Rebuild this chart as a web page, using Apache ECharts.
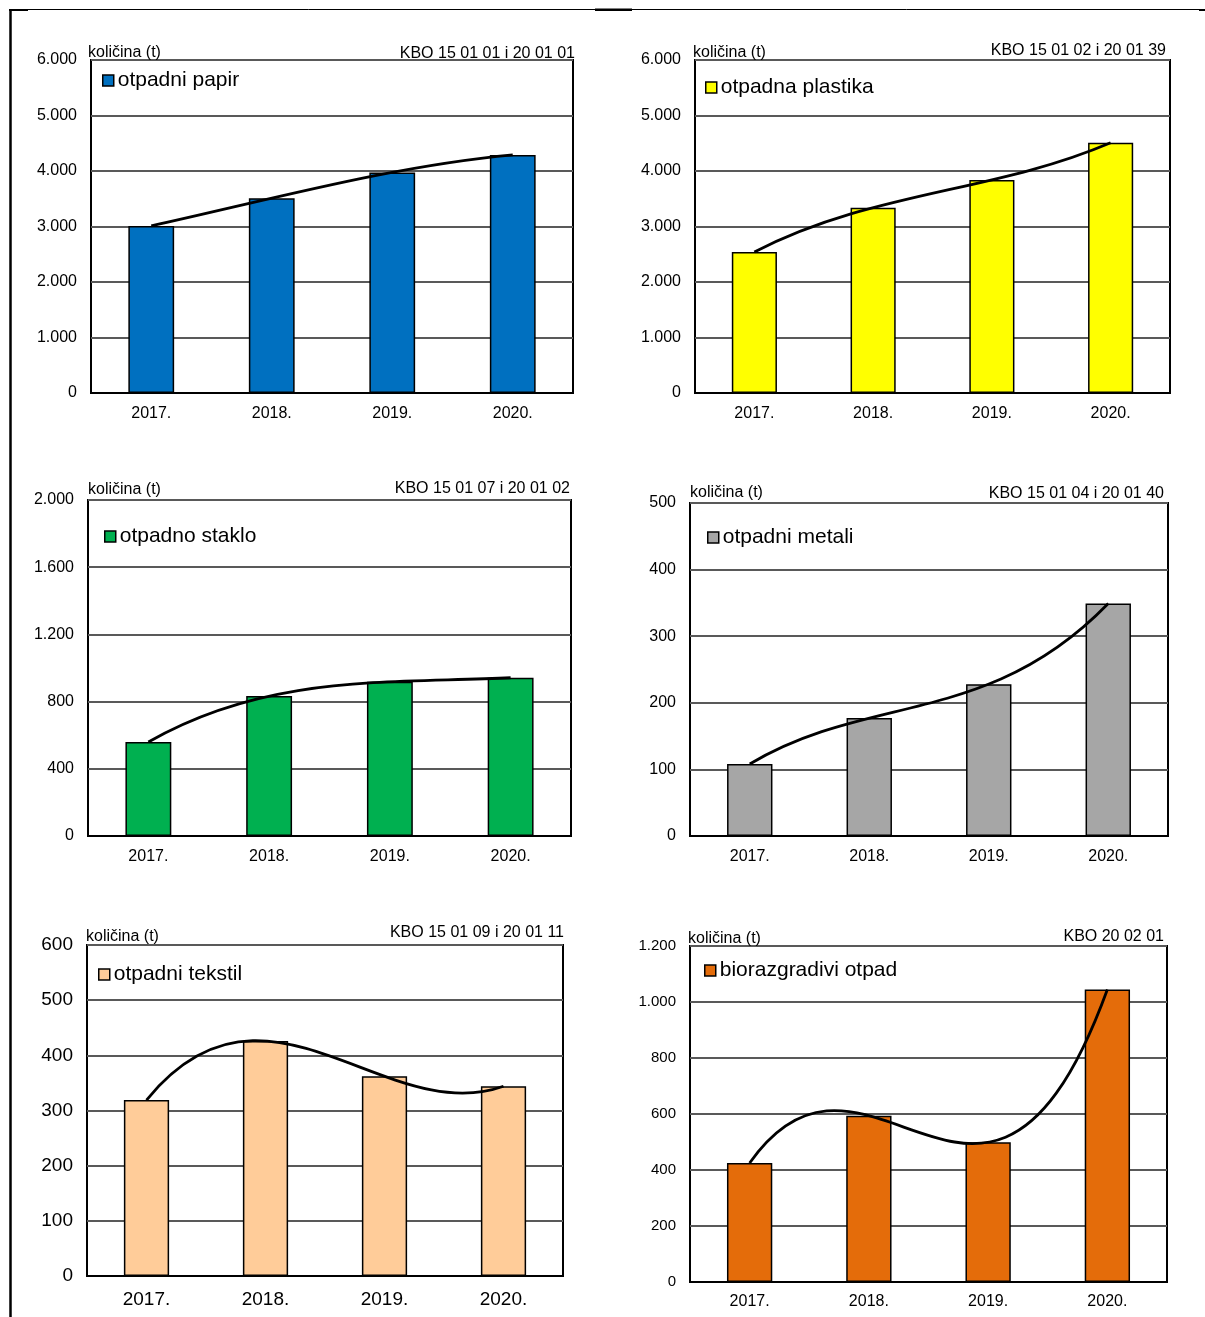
<!DOCTYPE html>
<html>
<head>
<meta charset="utf-8">
<script src="https://cdn.jsdelivr.net/npm/echarts@6/dist/echarts.min.js"></script>
<style>
html,body{margin:0;padding:0;background:#fff;}
#c{width:1205px;height:1317px;}
</style>
</head>
<body>
<div id="c"></div>
<script>
// ---- data ----
const years = ['2017.', '2018.', '2019.', '2020.'];
const papir = [3010, 3510, 3975, 4290];
const plastika = [2540, 3340, 3840, 4510];
const staklo = [560, 833, 918, 942];
const metali = [108, 177, 228, 349];
const tekstil = [319, 426, 362, 344];
const bio = [425, 594, 499, 1045];
const names = ['otpadni papir', 'otpadna plastika', 'otpadno staklo', 'otpadni metali', 'otpadni tekstil', 'biorazgradivi otpad'];
const kbo = ['KBO 15 01 01 i 20 01 01', 'KBO 15 01 02 i 20 01 39', 'KBO 15 01 07 i 20 01 02', 'KBO 15 01 04 i 20 01 40', 'KBO 15 01 09 i 20 01 11', 'KBO 20 02 01'];
const yMax = [6000, 6000, 2000, 500, 600, 1200];
const yInterval = [1000, 1000, 400, 100, 100, 200];
const unitLabel = 'količina (t)';

// ---- layout / style ----
const FONT = '"Liberation Sans", Arial, sans-serif';
const panels = [
  {data: papir,    color: '#0070C0', grid: {left: 91, top: 60, width: 482, height: 333}, leg: [102, 70], t1: [88, 45], t2: [630, 46], fs: 16, xfs: 16, xm: 13},
  {data: plastika, color: '#FFFF00', grid: {left: 695, top: 60, width: 475, height: 333}, leg: [705, 77], t1: [693, 45], t2: [39, 43], fs: 16, xfs: 16, xm: 13},
  {data: staklo,   color: '#00B050', grid: {left: 88, top: 500, width: 483, height: 336}, leg: [104, 526], t1: [88, 482], t2: [635, 481], fs: 16, xfs: 16, xm: 13},
  {data: metali,   color: '#A6A6A6', grid: {left: 690, top: 503, width: 478, height: 333}, leg: [707, 527], t1: [690, 485], t2: [41, 486], fs: 16, xfs: 16, xm: 13},
  {data: tekstil,  color: '#FFCC99', grid: {left: 87, top: 945, width: 476, height: 331}, leg: [98, 964], t1: [86, 929], t2: [641, 925], fs: 19, xfs: 19, xm: 14},
  {data: bio,      color: '#E46C0A', grid: {left: 690, top: 946, width: 477, height: 336}, leg: [704, 960], t1: [688, 931], t2: [41, 929], fs: 15, xfs: 16, xm: 12}
];

function fmt(v) {
  return String(v).replace(/\B(?=(\d{3})+(?!\d))/g, '.');
}

// Trend line: order-3 polynomial trendline through the four values,
// drawn as its exact cubic Bezier in data space, mapped through the axes.
function trendRender(vals) {
  return function (params, api) {
    if (params.dataIndex !== 0) return null;
    const [y0, y1, y2, y3] = vals;
    const c1 = (-5 * y0 + 18 * y1 - 9 * y2 + 2 * y3) / 6;
    const c2 = (2 * y0 - 9 * y1 + 18 * y2 - 5 * y3) / 6;
    const p0 = api.coord([0, y0]);
    const p1 = api.coord([1, c1]);
    const p2 = api.coord([2, c2]);
    const p3 = api.coord([3, y3]);
    return {
      type: 'bezierCurve',
      shape: {x1: p0[0], y1: p0[1], cpx1: p1[0], cpy1: p1[1], cpx2: p2[0], cpy2: p2[1], x2: p3[0], y2: p3[1]},
      style: {stroke: '#000', lineWidth: 2.8, fill: null},
      z2: 10
    };
  };
}

const option = {
  animation: false,
  backgroundColor: '#fff',
  textStyle: {fontFamily: FONT},
  grid: [], xAxis: [], yAxis: [], series: [], legend: [], title: [],
  graphic: [
    {type: 'line', shape: {x1: 10, y1: 9.5, x2: 1205, y2: 9.5}, style: {stroke: '#000', lineWidth: 1}},
    {type: 'line', shape: {x1: 10.5, y1: 9, x2: 10.5, y2: 1317}, style: {stroke: '#000', lineWidth: 2.5}},
    {type: 'rect', shape: {x: 9, y: 9, width: 19, height: 2}, style: {fill: '#000'}},
    {type: 'rect', shape: {x: 595, y: 8.5, width: 37, height: 2.5}, style: {fill: '#000'}},
    {type: 'rect', shape: {x: 1199, y: 9, width: 6, height: 2}, style: {fill: '#000'}}
  ]
};

panels.forEach((p, i) => {
  option.grid.push(Object.assign({show: true, borderColor: '#000', borderWidth: 2, backgroundColor: 'transparent', containLabel: false}, p.grid));
  option.xAxis.push({
    type: 'category', gridIndex: i, data: years,
    axisLine: {show: true, lineStyle: {color: '#000', width: 2}},
    axisTick: {show: false},
    axisLabel: {fontSize: p.xfs, color: '#000', margin: p.xm, fontFamily: FONT}
  });
  option.yAxis.push({
    type: 'value', gridIndex: i, min: 0, max: yMax[i], interval: yInterval[i],
    axisLine: {show: false}, axisTick: {show: false},
    splitLine: {show: true, lineStyle: {color: '#595959', width: 2}},
    axisLabel: {fontSize: p.fs, color: '#000', margin: 14, formatter: fmt, fontFamily: FONT, padding: [4, 0, 0, 0]}
  });
  option.series.push({
    type: 'bar', name: names[i], xAxisIndex: i, yAxisIndex: i, data: p.data,
    barWidth: '38%',
    itemStyle: {color: p.color, borderColor: '#000', borderWidth: 1.5},
    z: 2
  });
  option.series.push({
    type: 'custom', name: 'trend ' + i, xAxisIndex: i, yAxisIndex: i,
    data: p.data.map((v, k) => [k, v]),
    renderItem: trendRender(p.data),
    clip: false,
    z: 5
  });
  option.legend.push({
    data: [names[i]], left: p.leg[0], top: p.leg[1], padding: 0,
    icon: 'rect', itemWidth: 11, itemHeight: 11, itemGap: 5,
    selectedMode: false,
    itemStyle: {borderColor: '#000', borderWidth: 1.5},
    textStyle: {fontSize: 21, color: '#000', fontFamily: FONT, padding: [0, 0, 0, -1]}
  });
  option.title.push({
    text: unitLabel, left: p.t1[0], top: p.t1[1], padding: 0,
    textStyle: {fontSize: 16, fontWeight: 'normal', color: '#000', fontFamily: FONT}
  });
  option.title.push({
    text: kbo[i], right: p.t2[0], top: p.t2[1], padding: 0,
    textStyle: {fontSize: 16, fontWeight: 'normal', color: '#000', fontFamily: FONT}
  });
});

const chart = echarts.init(document.getElementById('c'), null, {renderer: 'canvas'});
chart.setOption(option);
</script>
</body>
</html>
